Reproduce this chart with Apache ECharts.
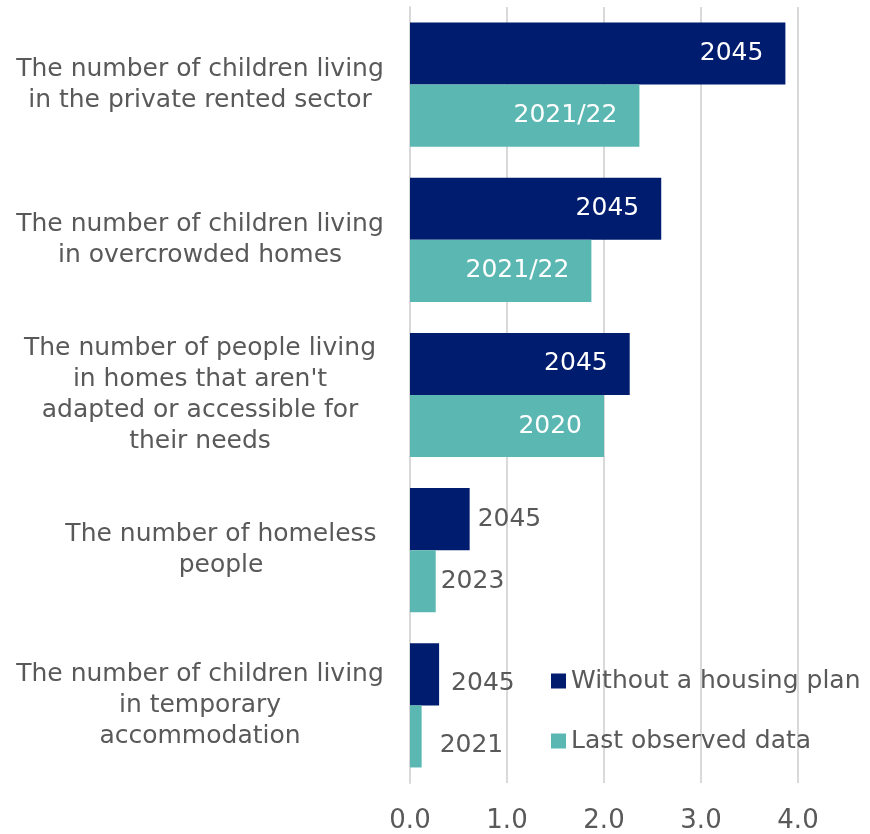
<!DOCTYPE html>
<html>
<head>
<meta charset="utf-8">
<title>Housing outlook</title>
<script src="https://cdn.jsdelivr.net/npm/echarts@6/dist/echarts.min.js"></script>
<style>
  html, body { margin: 0; padding: 0; background: #ffffff; }
  #chart { width: 870px; height: 834px; }
</style>
</head>
<body>
<div id="chart"></div>
<script>
// Categories, top to bottom
const categories = [
  'The number of children living\nin the private rented sector',
  'The number of children living\nin overcrowded homes',
  "The number of people living\nin homes that aren't\nadapted or accessible for\ntheir needs",
  'The number of homeless\npeople',
  'The number of children living\nin temporary\naccommodation'
];

// Values (millions)
const withoutPlan = [3.87, 2.59, 2.265, 0.615, 0.30];
const lastObserved = [2.365, 1.87, 2.00, 0.265, 0.12];

// Year stated on each bar
const withoutPlanYears = ['2045', '2045', '2045', '2045', '2045'];
const lastObservedYears = ['2021/22', '2021/22', '2020', '2023', '2021'];

const seriesNames = ['Without a housing plan', 'Last observed data'];
const xTicks = [0, 1, 2, 3, 4];

const NAVY = '#001c6e';
const TEAL = '#5ab7b2';
const GREY = '#595959';
const GRID = '#d9d9d9';
const FONT = '"DejaVu Sans", sans-serif';

// Big bars carry their year inside the bar end; short bars carry it outside.
// The bottom group's labels drop slightly to clear the legend column.
function buildData(values, years, outsideGap) {
  return values.map((v, i) => {
    const inside = v > 1.5;
    return {
      value: v,
      label: {
        show: true,
        formatter: years[i],
        position: inside ? 'insideRight' : 'right',
        distance: inside ? 22 : outsideGap(i),
        offset: i === values.length - 1 ? [0, 9] : [0, 0],
        color: inside ? '#ffffff' : GREY,
        fontSize: 25,
        fontFamily: FONT
      }
    };
  });
}

const chart = echarts.init(document.getElementById('chart'), null, { renderer: 'canvas' });

chart.setOption({
  backgroundColor: '#ffffff',
  animation: false,
  grid: { left: 410, right: 72, top: 7, bottom: 49, containLabel: false },
  legend: {
    orient: 'vertical',
    left: 546,
    top: 661,
    itemWidth: 15,
    itemHeight: 15,
    itemGap: 30,
    icon: 'rect',
    data: seriesNames,
    textStyle: { color: GREY, fontSize: 25, fontFamily: FONT, lineHeight: 30 }
  },
  xAxis: {
    type: 'value',
    min: xTicks[0],
    max: xTicks[xTicks.length - 1],
    interval: 1,
    axisLine: { show: false },
    axisTick: { show: false },
    splitLine: { show: true, lineStyle: { color: GRID, width: 2 } },
    axisLabel: {
      color: GREY,
      fontSize: 26,
      fontFamily: FONT,
      margin: 25,
      formatter: v => v.toFixed(1)
    }
  },
  yAxis: {
    type: 'category',
    inverse: true,
    data: categories,
    axisLine: { show: true, lineStyle: { color: GRID, width: 2 } },
    axisTick: { show: false },
    axisLabel: {
      color: GREY,
      fontSize: 25,
      fontFamily: FONT,
      lineHeight: 31,
      align: 'center',
      margin: 210,
      formatter: (val, idx) => {
        // the homeless label sits a little further right
        const tag = idx === 3 ? 'r' : 'n';
        return val.split('\n').map(l => '{' + tag + '|' + l + '}').join('\n');
      },
      rich: {
        n: { color: GREY, fontSize: 25, fontFamily: FONT, lineHeight: 31 },
        r: { color: GREY, fontSize: 25, fontFamily: FONT, lineHeight: 31, padding: [0, 0, 0, 42] }
      }
    }
  },
  series: [
    {
      name: seriesNames[0],
      type: 'bar',
      barGap: '0%',
      barCategoryGap: '20%',
      itemStyle: { color: NAVY },
      data: buildData(withoutPlan, withoutPlanYears, i => (i === 4 ? 12 : 8))
    },
    {
      name: seriesNames[1],
      type: 'bar',
      barGap: '0%',
      barCategoryGap: '20%',
      itemStyle: { color: TEAL },
      data: buildData(lastObserved, lastObservedYears, i => (i === 4 ? 18 : 5))
    }
  ]
});
</script>
</body>
</html>
